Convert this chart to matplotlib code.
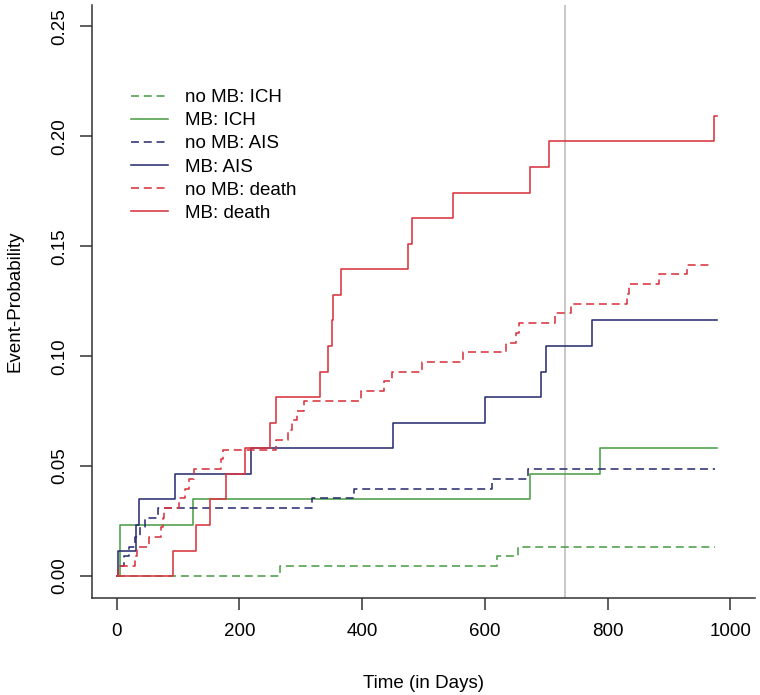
import matplotlib
matplotlib.use('Agg')
import matplotlib.pyplot as plt

plt.rcParams['font.family'] = ['Liberation Sans', 'DejaVu Sans']
plt.rcParams['font.size'] = 13.5

# step curves (days, cumulative event probability)
mb_death_t = [0, 92, 129, 153, 178, 209, 250, 260, 331, 344, 351, 352, 366, 474, 482, 548, 673, 704, 973, 978]
mb_death_p = [0, .0116, .0233, .0349, .0465, .0581, .0698, .0814, .093, .1047, .1163, .1279, .1395,
              .1512, .1628, .1744, .186, .1977, .2093, .2093]

mb_ais_t = [0, 3, 32, 37, 96, 219, 450, 600, 692, 699, 774, 978]
mb_ais_p = [0, .0116, .0233, .0349, .0465, .0581, .0698, .0814, .093, .1047, .1163, .1163]

mb_ich_t = [0, 6, 125, 673, 788, 978]
mb_ich_p = [0, .0233, .0349, .0465, .0581, .0581]

nomb_ich_t = [0, 266, 620, 654, 975]
nomb_ich_p = [0, .0044, .0089, .0133, .0133]

nomb_ais_t = [0, 3, 12, 21, 30, 38, 46, 67, 319, 386, 612, 670, 975]
nomb_ais_p = [0, .0044, .0089, .0133, .0177, .0221, .0265, .031, .0354, .0398, .0442, .0487, .0487]

nomb_death_t = [0, 3, 30, 34, 53, 72, 75, 78, 101, 111, 118, 126, 170, 174, 259, 280, 286, 294, 305,
                398, 435, 449, 498, 565, 634, 651, 656, 714, 740, 831, 835, 883, 930, 972]
nomb_death_p = [0, .0044, .0089, .0133, .0177, .0221, .0265, .031, .0354, .0398, .0442, .0487, .0531,
                .0575, .0619, .0664, .0708, .0752, .0796, .0841, .0885, .0929, .0973, .1018, .1062,
                .1106, .115, .1195, .1239, .1283, .1327, .1372, .1416, .1416]

green = '#4C9E47'
navy = '#2C2F72'
red = '#DA3440'
dash = (0, (5, 3))

fig = plt.figure(figsize=(7.6, 6.95), dpi=100)
ax = fig.add_axes([92/760, 1 - 598/695, (755-92)/760, (598-4.5)/695])

ax.axvline(730, color='#C4C4C4', lw=1.3)

ax.plot(nomb_ich_t, nomb_ich_p, drawstyle='steps-post', color=green, lw=1.15, ls=dash, label='no MB: ICH')
ax.plot(mb_ich_t, mb_ich_p, drawstyle='steps-post', color=green, lw=1.15, label='MB: ICH')
ax.plot(nomb_ais_t, nomb_ais_p, drawstyle='steps-post', color=navy, lw=1.15, ls=dash, label='no MB: AIS')
ax.plot(mb_ais_t, mb_ais_p, drawstyle='steps-post', color=navy, lw=1.15, label='MB: AIS')
ax.plot(nomb_death_t, nomb_death_p, drawstyle='steps-post', color=red, lw=1.15, ls=dash, label='no MB: death')
ax.plot(mb_death_t, mb_death_p, drawstyle='steps-post', color=red, lw=1.15, label='MB: death')

ax.set_xlim(-40, 1040)
ax.set_ylim(-0.01, 0.26)
ax.set_xticks([0, 200, 400, 600, 800, 1000])
ax.set_yticks([0, 0.05, 0.10, 0.15, 0.20, 0.25])
ax.set_yticklabels(['0.00', '0.05', '0.10', '0.15', '0.20', '0.25'], rotation=90, va='center')

for s in ['top', 'right']:
    ax.spines[s].set_visible(False)
for s in ['left', 'bottom']:
    ax.spines[s].set_color('#333333')
    ax.spines[s].set_linewidth(1.1)
ax.tick_params(axis='both', length=8.6, width=1.1, color='#333333')
ax.tick_params(axis='x', pad=9.5)
ax.tick_params(axis='y', pad=8.5)

ax.set_xlabel('Time (in Days)', labelpad=25)
ax.set_ylabel('Event-Probability', labelpad=20)

ax.legend(loc='upper left', bbox_to_anchor=(131/760, 1 - 89/695), bbox_transform=fig.transFigure,
          frameon=False, borderpad=0, handlelength=1.95, handletextpad=0.95, labelspacing=0.32,
          borderaxespad=0)

fig.savefig('out.png', dpi=100)
